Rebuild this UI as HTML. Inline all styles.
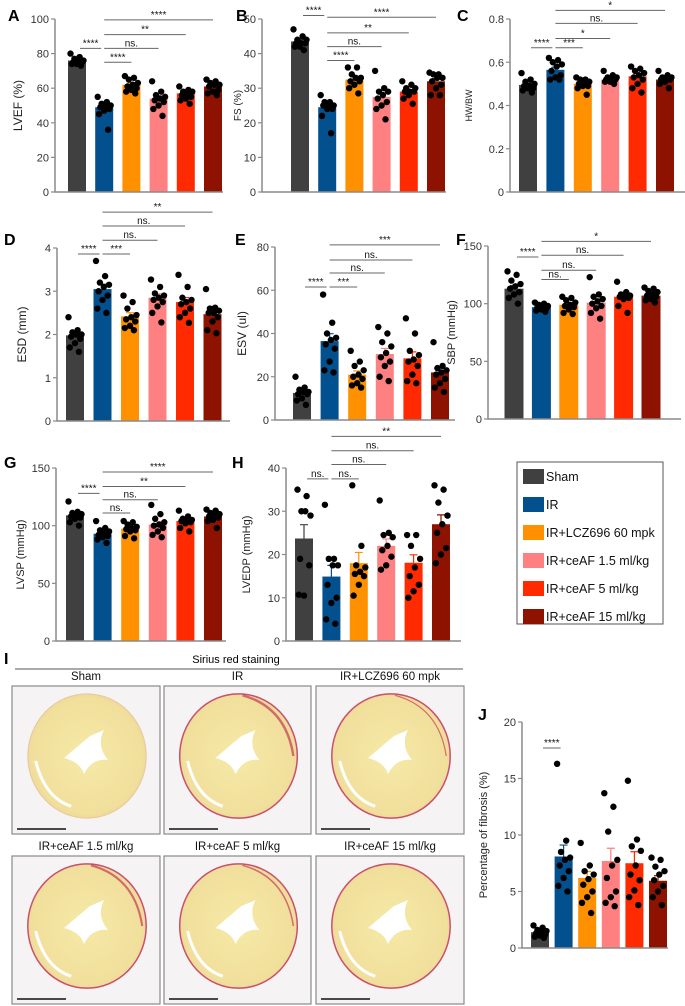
<!DOCTYPE html>
<html><head><meta charset="utf-8"><style>
body{margin:0;background:#fff}
svg{display:block;font-family:"Liberation Sans",Arial,sans-serif}
</style></head><body>
<svg id="fig" width="685" height="1006" viewBox="0 0 685 1006" xmlns="http://www.w3.org/2000/svg">
<defs>
<radialGradient id="tissue" cx="50%" cy="50%" r="55%"><stop offset="0" stop-color="#f5eaa6"/><stop offset="0.85" stop-color="#f1df9c"/><stop offset="1" stop-color="#ebcf9c"/></radialGradient>
</defs>
<g id="charts"></g>
<g id="legend">
<rect x="517" y="462" width="146" height="162" fill="#fff" stroke="#555" stroke-width="1"/>
</g>
<g id="histo">
<text x="4" y="664" font-size="16" font-weight="bold">I</text>
<text x="236" y="663" font-size="11" text-anchor="middle">Sirius red staining</text>
<line x1="15" y1="669" x2="463" y2="669" stroke="#555" stroke-width="1"/>
</g>
</svg>
<script>
const groups = ["Sham","IR","IR+LCZ696 60 mpk","IR+ceAF 1.5 ml/kg","IR+ceAF 5 ml/kg","IR+ceAF 15 ml/kg"];
const colors = ["#404040","#03508f","#ff9100","#ff8080","#ff2a00","#8e1200"];

const lvefMeans = [76,49,62,54,57,61];
const lvefPts = [[80,78,77,76,76,75,75,74,74,73],[55,52,51,50,49,49,48,47,45,36],[67,66,65,63,62,61,60,59,58,57],[64,58,56,55,54,53,52,50,48,44],[61,59,58,58,57,56,55,54,53,51],[65,64,63,62,62,61,59,58,57,56]];
const lvefTicks = [0,20,40,60,80,100];
const lvefBrackets = [[0,1,83,"****"],[1,2,75,"****"],[1,3,83,"ns."],[1,4,91,"**"],[1,5,99.5,"****"]];

const fsMeans = [43.5,24.5,32.5,27.5,29,32];
const fsPts = [[47,45,44,44,43,43,43,42,42,41],[28,26,26,25,25,25,24,24,22,17],[36,36,34,33,33,32,32,31,30,28.5],[35,30,29,29,28,27,26,25,24,21],[32,31,30,30,29,29,29,28,27,25.5],[34.5,34,34,33,33,32,31,30,28,28]];
const fsTicks = [0,10,20,30,40,50];
const fsBrackets = [[0,1,51,"****"],[1,2,38,"****"],[1,3,42,"ns."],[1,4,46,"**"],[1,5,50.5,"****"]];

const hwMeans = [0.495,0.565,0.50,0.52,0.535,0.52];
const hwPts = [[.55,.52,.51,.50,.49,.49,.48,.48,.47,.46],[.62,.61,.60,.59,.58,.56,.54,.53,.52,.52],[.53,.52,.52,.51,.50,.50,.49,.49,.48,.45],[.56,.54,.53,.53,.52,.52,.52,.51,.51,.50],[.58,.57,.56,.55,.54,.53,.52,.50,.48,.46],[.56,.54,.53,.53,.52,.52,.52,.51,.50,.48]];
const hwTicks = [0,0.2,0.4,0.6,0.8];
const hwBrackets = [[0,1,0.667,"****"],[1,2,0.667,"***"],[1,3,0.71,"*"],[1,4,0.78,"ns."],[1,5,0.84,"*"]];

const esdMeans = [1.98,3.05,2.42,2.85,2.75,2.47];
const esdPts = [[2.4,2.1,2.05,2.0,2.0,1.95,1.9,1.8,1.7,1.6],[3.7,3.35,3.2,3.15,3.1,3.0,2.9,2.8,2.6,2.5],[2.9,2.75,2.6,2.45,2.4,2.35,2.3,2.2,2.15,2.1],[3.27,3.1,2.95,2.9,2.85,2.8,2.75,2.65,2.5,2.28],[3.38,3.1,2.85,2.8,2.75,2.7,2.6,2.5,2.4,2.27],[3.05,2.62,2.6,2.55,2.5,2.5,2.4,2.3,2.1,2.03]];
const esdTicks = [0,1,2,3,4];
const esdBrackets = [[0,1,3.86,"****"],[1,2,3.86,"***"],[1,3,4.18,"ns."],[1,4,4.51,"ns."],[1,5,4.83,"**"]];

const esvMeans = [12.5,36.5,21,30.5,28.5,22];
const esvPts = [[20,15,14,13,13,12,12,10,9,7],[58,45,40,38,37,35,33,27,23,22],[32,27,25,23,21,20,19,17,16,15],[43,40,36,34,31,29,27,25,20,18],[47,40,32,30,28,27,25,21,18,17],[36,25,24,23,22,21,19,17,15,13]];
const esvTicks = [0,20,40,60,80];
const esvBrackets = [[0,1,61.5,"****"],[1,2,61.5,"***"],[1,3,68,"ns."],[1,4,74,"ns."],[1,5,81,"***"]];

const sbpMeans = [113,97,99,101,106,107];
const sbpPts = [[128,125,120,117,115,113,110,108,105,100],[101,100,99,98,98,97,96,95,94,93],[106,105,103,101,99,98,97,95,92,91],[123,108,106,104,102,100,98,96,92,87],[119,110,108,107,106,106,105,104,98,92],[114,113,111,110,108,107,106,104,103,101]];
const sbpTicks = [0,50,100,150];
const sbpBrackets = [[0,1,140.5,"****"],[1,2,121,"ns."],[1,3,129,"ns."],[1,4,142,"ns."],[1,5,154,"*"]];

const lvspMeans = [109,93,97.5,101,104,108];
const lvspPts = [[121,112,111,110,109,108,107,106,103,100],[104,98,96,95,93,92,91,90,88,85],[104,103,101,99,98,97,96,95,91,89],[118,110,106,103,101,100,98,95,92,90],[113,108,106,105,104,104,103,102,98,95],[114,113,111,110,109,108,107,105,104,98]];
const lvspTicks = [0,50,100,150];
const lvspBrackets = [[0,1,128,"****"],[1,2,111,"ns."],[1,3,122.5,"ns."],[1,4,134,"**"],[1,5,146.5,"****"]];

const lvedpMeans = [23.7,14.9,18,22,18.1,27];
const lvedpPts = [[35,33.5,30,29,30,19,17.5,10.5,10.7],[31.5,19,19,17.5,17.5,13,10,8.8,5,4],[36,22,17.5,17,16,15.5,15,13,10.5],[32.5,25,24.5,24,22,21,19.5,17.5,16.5],[24.5,24.5,22,19,17,15,13,11.5,10],[36,35,32,29,27,25,21.5,20,18]];
const lvedpTicks = [0,10,20,30,40];
const lvedpBrackets = [[0,1,37.5,"ns."],[1,2,37.5,"ns."],[1,3,40.8,"ns."],[1,4,44,"ns."],[1,5,47.3,"**"]];

const fibMeans = [1.4,8.1,6.2,7.7,7.5,5.95];
const fibPts = [[2.0,1.8,1.6,1.5,1.4,1.3,1.2,1.1,1.0,0.9],[16.3,9.5,8.5,8,7.8,7.3,6.8,6.2,5.5,5],[9.3,7.3,6.8,6.5,6.1,5.6,5,4.5,4,3.1],[13.7,12.5,10.3,7.8,7.3,6.2,5,4.5,4,3.7],[14.8,9.6,9,8.6,7.3,6.5,6,5.1,4.5,3.8],[8,7.8,7.2,6.8,6.5,6,5.5,5,4.5,3.8]];
const fibTicks = [0,5,10,15,20];
const fibBrackets = [[0,1,17.7,"****"]];

const NS = "http://www.w3.org/2000/svg";
function mk(tag, attrs, parent){const e=document.createElementNS(NS,tag);for(const k in attrs)e.setAttribute(k,attrs[k]);if(parent)parent.appendChild(e);return e;}
const root = document.getElementById("charts");

const panels = [
 {key:"lvef",label:"A",lx:8,ly:21,ax:55,yTop:19,yBot:192,vmax:100,c0:77,pitch:27.2,bw:18,end:223,means:lvefMeans,pts:lvefPts,ticks:lvefTicks,br:lvefBrackets,title:"LVEF (%)",tx:22,ts:12,fmt:v=>v},
 {key:"fs",label:"B",lx:236,ly:21,ax:262,yTop:19,yBot:192,vmax:50,c0:300,pitch:27.2,bw:18,end:446,means:fsMeans,pts:fsPts,ticks:fsTicks,br:fsBrackets,title:"FS (%)",tx:241,ts:10,fmt:v=>v},
 {key:"hwbw",label:"C",lx:457,ly:21,ax:510,yTop:19,yBot:192,vmax:0.8,c0:528,pitch:27.4,bw:18,end:685,means:hwMeans,pts:hwPts,ticks:hwTicks,br:hwBrackets,title:"HW/BW",tx:472,ts:9,fmt:v=>v===0?"0":v.toFixed(1)},
 {key:"esd",label:"D",lx:4,ly:245,ax:57,yTop:248,yBot:421,vmax:4,c0:75,pitch:27.5,bw:18,end:230,means:esdMeans,pts:esdPts,ticks:esdTicks,br:esdBrackets,title:"ESD (mm)",tx:26,ts:12,fmt:v=>v},
 {key:"esv",label:"E",lx:235,ly:245,ax:275,yTop:247,yBot:420,vmax:80,c0:302,pitch:27.6,bw:18,end:455,means:esvMeans,pts:esvPts,ticks:esvTicks,br:esvBrackets,title:"ESV (ul)",tx:246,ts:12,fmt:v=>v},
 {key:"sbp",label:"F",lx:456,ly:245,ax:488,yTop:246,yBot:419,vmax:150,c0:514,pitch:27.4,bw:19,end:681,means:sbpMeans,pts:sbpPts,ticks:sbpTicks,br:sbpBrackets,title:"SBP (mmHg)",tx:455,ts:11,fmt:v=>v},
 {key:"lvsp",label:"G",lx:4,ly:468,ax:56,yTop:468,yBot:641,vmax:150,c0:75,pitch:27.6,bw:18,end:226,means:lvspMeans,pts:lvspPts,ticks:lvspTicks,br:lvspBrackets,title:"LVSP (mmHg)",tx:24,ts:11,fmt:v=>v},
 {key:"lvedp",label:"H",lx:232,ly:468,ax:286,yTop:468,yBot:641,vmax:40,c0:304,pitch:27.4,bw:18,end:461,means:lvedpMeans,pts:lvedpPts,ticks:lvedpTicks,br:lvedpBrackets,title:"LVEDP (mmHg)",tx:250,ts:11,fmt:v=>v},
 {key:"fibrosis",label:"J",lx:478,ly:720,ax:522,yTop:722,yBot:948,vmax:20,c0:540,pitch:23.6,bw:18,end:668,means:fibMeans,pts:fibPts,ticks:fibTicks,br:fibBrackets,title:"Percentage of fibrosis (%)",tx:487,ts:11,fmt:v=>v}
];

panels.forEach(p=>{
  const g = mk("g",{},root);
  
  
  const y = v => p.yBot - (v/p.vmax)*(p.yBot-p.yTop);
  const x = i => p.c0 + i*p.pitch;
  const lab = mk("text",{x:p.lx,y:p.ly,"font-size":16,"font-weight":"bold"},g);
  lab.textContent = p.label;
  
  
  p.means.forEach((m,i)=>{
    const r = mk("rect",{x:x(i)-p.bw/2,y:y(m),width:p.bw,height:p.yBot-y(m),fill:colors[i]},g);
    
    
    const pts = p.pts[i], n = pts.length;
    const mean = pts.reduce((a,b)=>a+b,0)/n;
    const sd = Math.sqrt(pts.reduce((a,b)=>a+(b-mean)*(b-mean),0)/(n-1));
    const sem = sd/Math.sqrt(n);
    const eb = mk("path",{d:`M${x(i)} ${y(m)} V${y(m+sem)} M${x(i)-4} ${y(m+sem)} H${x(i)+4}`,stroke:colors[i],"stroke-width":1.2,fill:"none"},g);
    
    
  });
  const ax = mk("path",{d:`M${p.ax} ${p.yTop} V${p.yBot} H${p.end}`,stroke:"#8a8a8a","stroke-width":1.5,fill:"none"},g);
  
  
  p.ticks.forEach(t=>{
    mk("line",{x1:p.ax-4,x2:p.ax,y1:y(t),y2:y(t),stroke:"#8a8a8a","stroke-width":1.2},g);
    const tl = mk("text",{x:p.ax-6,y:y(t)+4,"font-size":11,"text-anchor":"end",fill:"#333"},g);
    tl.textContent = p.fmt(t);
    
    
  });
  const cy = (p.yTop+p.yBot)/2;
  const tt = mk("text",{x:p.tx,y:cy,"font-size":p.ts,"text-anchor":"middle",transform:`rotate(-90 ${p.tx} ${cy})`,fill:"#222"},g);
  tt.textContent = p.title;
  
  
  p.pts.forEach((arr,i)=>{
    arr.forEach((v,k)=>{
      const off = (((k*7)%11)-5)*1.3;
      const d = mk("circle",{cx:x(i)+off,cy:y(v),r:3.2,fill:"#000"},g);
      
      
    });
  });
  p.br.forEach(b=>{
    const yy = y(b[2]);
    const adj = b[1]-b[0]===1 && b[0]===0 ? 3 : 0;
    const l = mk("line",{x1:x(b[0])+adj,x2:x(b[1])-adj,y1:yy,y2:yy,stroke:"#666","stroke-width":1},g);
    
    
    const s = mk("text",{x:(x(b[0])+x(b[1]))/2,y:yy-2,"font-size":10,"text-anchor":"middle",fill:"#111"},g);
    s.textContent = b[3];
    
    
  });
});

const lg = document.getElementById("legend");
groups.forEach((gname,i)=>{
  const yy = 476 + i*28;
  const sw = mk("rect",{x:523,y:yy-7,width:21,height:15,fill:colors[i]},lg);
  
  
  const t = mk("text",{x:546,y:yy+5,"font-size":12.5,fill:"#111"},lg);
  t.textContent = gname;
  
  
});

const hg = document.getElementById("histo");
const boxes = [[12,686,148,148],[164,686,147,148],[316,686,148,148],[12,856,148,148],[164,856,147,148],[316,856,148,148]];
const boxTitles = ["Sham","IR","IR+LCZ696 60 mpk","IR+ceAF 1.5 ml/kg","IR+ceAF 5 ml/kg","IR+ceAF 15 ml/kg"];
const red = [0,0.8,0.4,0.7,0.5,0.3];
boxes.forEach((b,i)=>{
  const [bx,by,bw,bh] = b;
  const gg = mk("g",{},hg);
  
  
  const t = mk("text",{x:bx+bw/2,y:by-6,"font-size":11.5,"text-anchor":"middle",fill:"#111"},gg);
  t.textContent = boxTitles[i];
  
  
  mk("rect",{x:bx,y:by,width:bw,height:bh,fill:"#f6f3f5",stroke:"#8a8a8a","stroke-width":1.2},gg);
  const cx = bx+bw/2, cy = by+bh/2-4;
  mk("ellipse",{cx:cx+1,cy:cy,rx:bw*0.4,ry:bh*0.42,fill:"url(#tissue)",stroke:red[i]>0?"#c9506a":"#e8c89a","stroke-width":red[i]>0?1.5:1},gg);
  if(red[i]>0.35){
    mk("path",{d:`M${cx+5} ${cy-bh*0.41} Q${cx+bw*0.33} ${cy-bh*0.33} ${cx+bw*0.38} ${cy}`,stroke:"#c33a5a","stroke-width":3*red[i],fill:"none",opacity:0.7},gg);
  }
  mk("path",{d:`M${cx-22} ${cy+2} Q${cx-8} ${cy-10} ${cx+4} ${cy-20} L${cx+18} ${cy-26} Q${cx+10} ${cy-10} ${cx+22} ${cy+4} Q${cx+6} ${cy+2} ${cx-2} ${cy+18} Q${cx-6} ${cy+6} ${cx-22} ${cy+2} Z`,fill:"#fff"},gg);
  mk("path",{d:`M${cx-bw*0.34} ${cy+5} Q${cx-bw*0.28} ${cy+bh*0.28} ${cx-bw*0.1} ${cy+bh*0.34}`,stroke:"#fff","stroke-width":3,fill:"none"},gg);
  const sb = mk("line",{x1:bx+5,x2:bx+54,y1:by+bh-5,y2:by+bh-5,stroke:"#111","stroke-width":1.5},gg);
  
  
});
</script>
</body></html>
